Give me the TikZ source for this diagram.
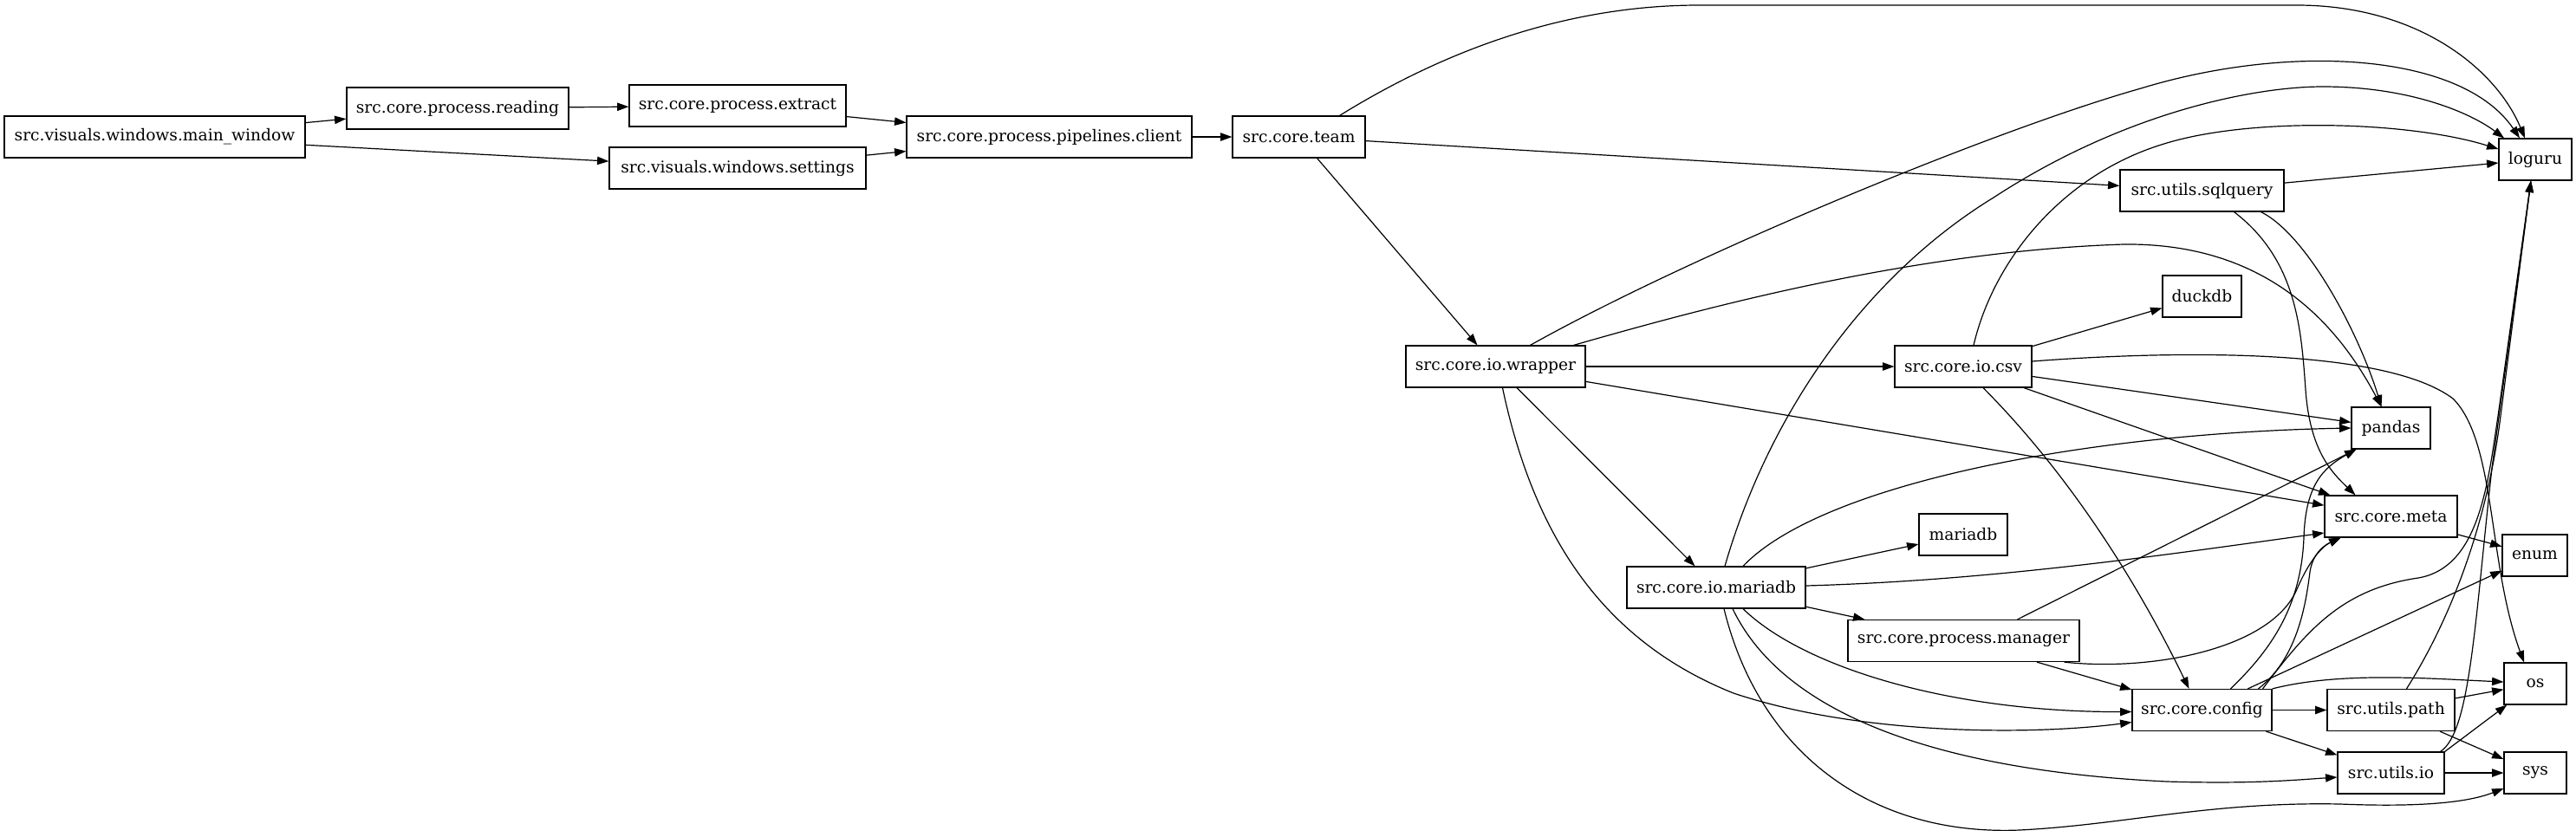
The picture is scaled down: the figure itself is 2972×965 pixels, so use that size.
\documentclass[tikz,border=0pt]{standalone}
\usepackage{fontspec}
\setmainfont{DejaVu Serif}
\usetikzlibrary{arrows.meta,calc}
\tikzset{
  mod/.style={draw, line width=0.9pt, rectangle, inner sep=0pt, minimum height=36pt, font=\fontsize{14}{16}\selectfont},
  edge/.style={-{Triangle[length=10pt,width=7pt]}, line width=0.9pt}
}
\begin{document}
\begin{tikzpicture}[x=0.75pt,y=-0.75pt]
\useasboundingbox (0,0) rectangle (2972,965);
% nodes
\node[mod, minimum width=260.25pt] (mw) at (178.5,158) {src.visuals.windows.main\_window};
\node[mod, minimum width=192pt] (reading) at (528,125) {src.core.process.reading};
\node[mod, minimum width=187.5pt] (extract) at (851,122) {src.core.process.extract};
\node[mod, minimum width=222pt] (settings) at (851,194) {src.visuals.windows.settings};
\node[mod, minimum width=246.75pt] (client) at (1210.5,158) {src.core.process.pipelines.client};
\node[mod, minimum width=114.75pt] (team) at (1498.5,158) {src.core.team};
\node[mod, minimum width=155.25pt] (wrapper) at (1725.5,423) {src.core.io.wrapper};
\node[mod, minimum width=118.5pt] (csv) at (2265,423) {src.core.io.csv};
\node[mod, minimum width=154.5pt] (iomariadb) at (1980,678) {src.core.io.mariadb};
\node[mod, minimum width=76.5pt] (mariadb) at (2265,617) {mariadb};
\node[mod, minimum width=200.25pt] (manager) at (2265.5,739.5) {src.core.process.manager};
\node[mod, minimum width=63pt] (loguru) at (2925,184) {loguru};
\node[mod, minimum width=141.75pt] (sqlquery) at (2540.5,220) {src.utils.sqlquery};
\node[mod, minimum width=68.25pt] (duckdb) at (2540.5,342) {duckdb};
\node[mod, minimum width=68.25pt] (pandas) at (2758.5,494) {pandas};
\node[mod, minimum width=114.75pt] (meta) at (2758.5,596) {src.core.meta};
\node[mod, minimum width=56.25pt] (enum) at (2924.5,641) {enum};
\node[mod, minimum width=54pt] (os) at (2925,789) {os};
\node[mod, minimum width=120.75pt] (config) at (2540.5,819.5) {src.core.config};
\node[mod, minimum width=110.25pt] (path) at (2758.5,819.5) {src.utils.path};
\node[mod, minimum width=92.25pt] (io) at (2758.5,892) {src.utils.io};
\node[mod, minimum width=54pt] (sys) at (2925,892) {sys};
% straight edges
\draw[edge] (mw) -- (reading);
\draw[edge] (mw) -- (settings);
\draw[edge] (reading) -- (extract);
\draw[edge] (extract) -- (client);
\draw[edge] (settings) -- (client);
\draw[edge] (client) -- (team);
\draw[edge] (team) -- (sqlquery);
\draw[edge] (team) -- (wrapper);
\draw[edge] (wrapper) -- (csv);
\draw[edge] (wrapper) -- (meta);
\draw[edge] (wrapper) -- (iomariadb);
\draw[edge] (csv) -- (duckdb);
\draw[edge] (csv) -- (pandas);
\draw[edge] (csv) -- (meta);
\draw[edge] (sqlquery) -- (loguru);
\draw[edge] (iomariadb) -- (mariadb);
\draw[edge] (iomariadb) -- (manager);
\draw[edge] (manager) -- (config);
\draw[edge] (config) -- (enum);
\draw[edge] (config) -- (path);
\draw[edge] (config) -- (io);
\draw[edge] (path) -- (os);
\draw[edge] (path) -- (sys);
\draw[edge] (io.north east) -- (os);
\draw[edge] (io) -- (sys);
\draw[edge] (meta) -- (enum);
\draw[edge] ($(manager.north)+(62,0)$) -- ($(pandas.south)+(-40,0)$);
% curved edges
\draw[edge] ($(team.north)+(47,0)$) .. controls (1680,50) and (1820,6) .. (1960,6) -- (2650,6) .. controls (2790,6) and (2880,80) .. ($(loguru.north)+(-12,0)$);
\draw[edge] ($(wrapper.north)+(40,0)$) .. controls (1950,295) and (2300,150) .. (2470,102) .. controls (2640,50) and (2840,60) .. ($(loguru.north)+(-18,0)$);
\draw[edge] ($(wrapper.north)+(90,0)$) .. controls (1950,360) and (2200,290) .. (2450,282) .. controls (2620,280) and (2700,380) .. ($(pandas.north)+(-11,0)$);
\draw[edge] ($(wrapper.south)+(8,0)$) .. controls (1770,620) and (1850,740) .. (2000,800) .. controls (2150,850) and (2350,848) .. ($(config.west)+(0,14)$);
\draw[edge] ($(csv.north)+(12,0)$) .. controls (2300,300) and (2380,200) .. (2500,165) .. controls (2600,135) and (2780,140) .. ($(loguru.west)+(0,-12)$);
\draw[edge] ($(csv.east)+(0,-6)$) .. controls (2500,405) and (2750,400) .. (2830,460) .. controls (2880,510) and (2870,650) .. ($(os.north)+(-13,0)$);
\draw[edge] ($(csv.south)+(23,0)$) .. controls (2380,540) and (2460,660) .. ($(config.north)+(-15,0)$);
\draw[edge] ($(sqlquery.south)+(68,0)$) .. controls (2660,270) and (2720,380) .. ($(pandas.north)+(-11,0)$);
\draw[edge] ($(sqlquery.south)+(37,0)$) .. controls (2650,300) and (2655,380) .. (2660,450) .. controls (2665,520) and (2690,545) .. ($(meta.north)+(-41,0)$);
\draw[edge] ($(iomariadb.north)+(10,0)$) .. controls (2040,480) and (2150,320) .. (2300,228) .. controls (2450,130) and (2600,100) .. (2680,100) .. controls (2780,100) and (2850,130) .. ($(loguru.north)+(-36,0)$);
\draw[edge] ($(iomariadb.north)+(31,0)$) .. controls (2100,560) and (2400,500) .. (pandas.west);
\draw[edge] ($(iomariadb.east)+(0,-2)$) .. controls (2300,670) and (2500,640) .. ($(meta.west)+(0,19)$);
\draw[edge] ($(iomariadb.south)+(31,0)$) .. controls (2080,770) and (2250,822) .. ($(config.west)+(0,2)$);
\draw[edge] ($(iomariadb.south)+(19,0)$) .. controls (2060,830) and (2250,890) .. (2500,902) .. controls (2600,905) and (2650,900) .. ($(io.west)+(0,5)$);
\draw[edge] ($(iomariadb.south)+(9,0)$) .. controls (2030,870) and (2160,965) .. (2330,958) .. controls (2450,952) and (2550,925) .. (2700,928) .. controls (2800,932) and (2850,925) .. ($(sys.west)+(0,18)$);
\draw[edge] ($(manager.south)+(116,0)$) .. controls (2480,775) and (2620,750) .. (2650,680) .. controls (2665,645) and (2680,630) .. ($(meta.south)+(-58,0)$);
\draw[edge] ($(config.north)+(33,0)$) .. controls (2620,750) and (2655,700) .. (2658,620) .. controls (2660,560) and (2680,540) .. ($(pandas.south)+(-40,0)$);
\draw[edge] ($(config.north)+(65,0)$) .. controls (2650,760) and (2660,700) .. (2665,660) .. controls (2668,640) and (2680,630) .. ($(meta.south)+(-58,0)$);
\draw[edge] ($(config.north)+(70,0)$) .. controls (2660,730) and (2700,680) .. (2790,667) .. controls (2860,655) and (2870,560) .. (2882,480) -- ($(loguru.south)+(-5,0)$);
\draw[edge] (config.north east) .. controls (2700,775) and (2800,783) .. ($(os.west)+(0,-2)$);
\draw[edge] ($(path.north)+(18,0)$) .. controls (2830,710) and (2870,600) .. (2885,480) -- ($(loguru.south)+(-5,0)$);
\draw[edge] ($(io.north)+(57,0)$) .. controls (2850,845) and (2855,720) .. (2875,540) -- ($(loguru.south)+(-5,0)$);
\end{tikzpicture}
\end{document}
